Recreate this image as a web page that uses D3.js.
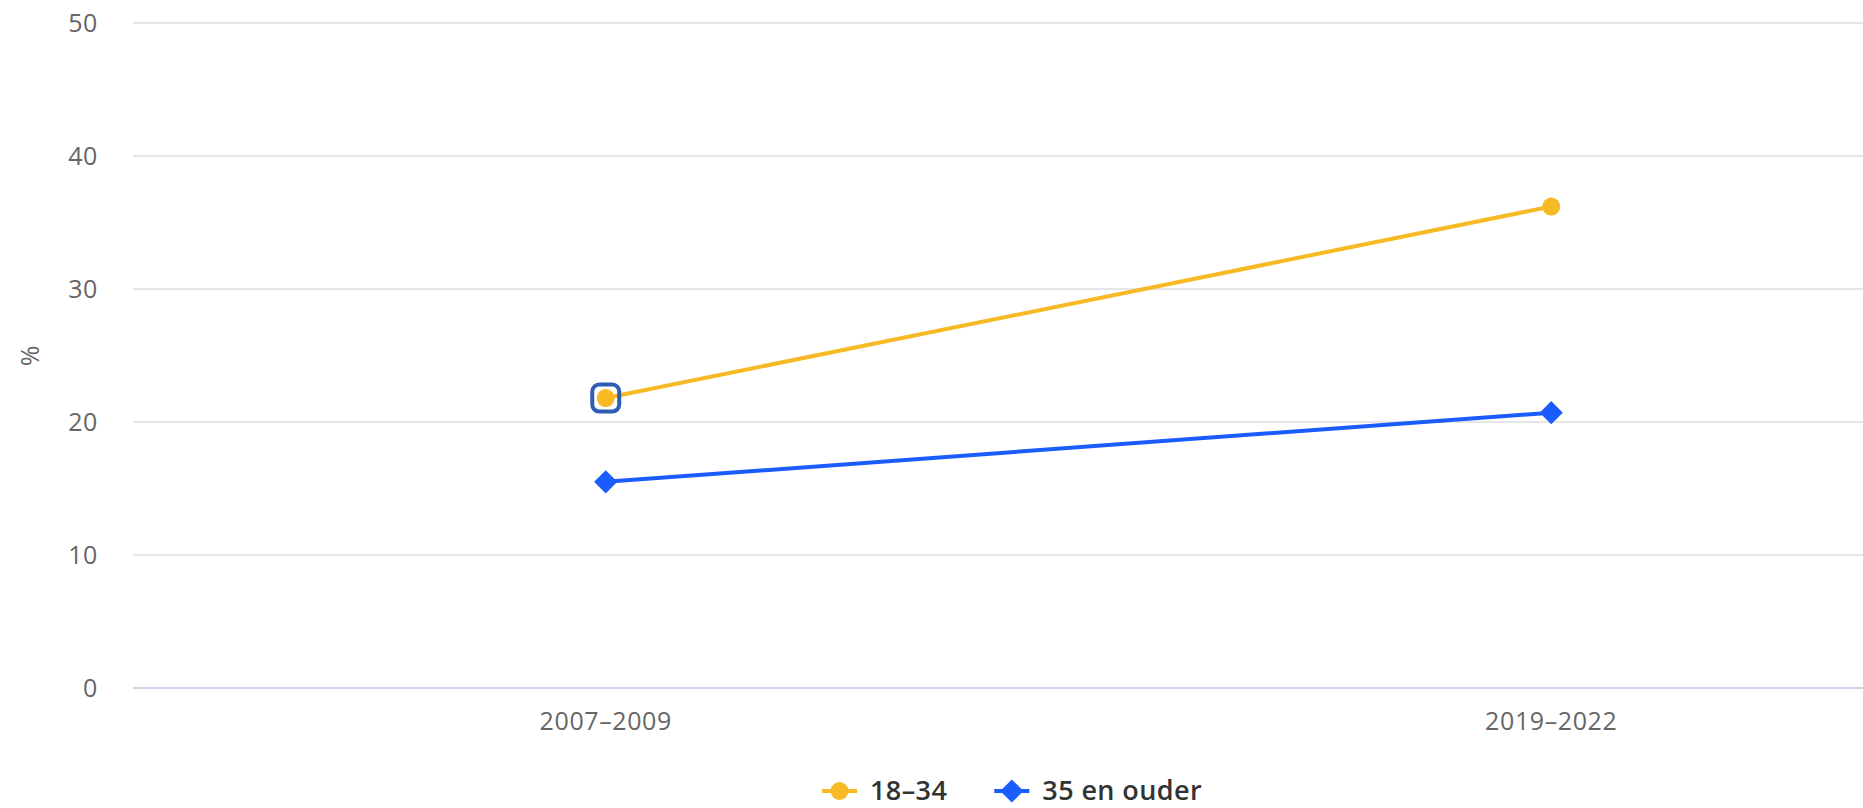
<!DOCTYPE html>
<html>
<head>
<meta charset="utf-8">
<script src="https://cdn.jsdelivr.net/npm/d3@7"></script>
<style>
  body { margin: 0; background: #fff; }
  svg { display: block; font-family: "Open Sans", sans-serif; }
  .tick-label { fill: #666666; font-size: 25px; letter-spacing: 0.6px; }
  .legend-text { fill: #333333; font-size: 27px; font-weight: 600; letter-spacing: 0.4px; }
</style>
</head>
<body>
<svg width="1863" height="808"></svg>
<script>
var periods = ["2007–2009", "2019–2022"];
var youngValues = [21.8, 36.2];   // 18–34
var olderValues = [15.5, 20.7];   // 35 en ouder
var seriesNames = ["18–34", "35 en ouder"];
var yTicks = [0, 10, 20, 30, 40, 50];

var width = 1863;
var chartWidth = 2024; // chart is cut off on the right side
var plotLeft = 133, plotRight = 2024, plotTop = 23, plotBottom = 688;

var yellow = "#f7b924";
var blue = "#1b5cff";

var svg = d3.select("svg");

var x = d3.scalePoint().domain(periods).range([plotLeft, plotRight]).padding(0.5);
var y = d3.scaleLinear().domain([0, 50]).range([plotBottom, plotTop]);

// grid
svg.append("g")
.selectAll("line")
.data(yTicks.filter(function (t) { return t > 0; }))
.join("line")
.attr("x1", plotLeft)
.attr("x2", width)
.attr("y1", function (d) { return y(d); })
.attr("y2", function (d) { return y(d); })
.style("stroke", "#e6e6e6")
.style("stroke-width", 2);

// x axis line
svg.append("line")
.attr("x1", plotLeft).attr("x2", width)
.attr("y1", y(0)).attr("y2", y(0))
.style("stroke", "#ccd6eb")
.style("stroke-width", 2);

// y tick labels
svg.append("g")
.selectAll("text")
.data(yTicks)
.join("text")
.attr("class", "tick-label")
.attr("x", 98)
.attr("y", function (d) { return y(d); })
.attr("dy", "0.35em")
.attr("text-anchor", "end")
.text(function (d) { return d; });

// x tick labels
svg.append("g")
.selectAll("text")
.data(periods)
.join("text")
.attr("class", "tick-label")
.attr("x", function (d) { return x(d); })
.attr("y", 730)
.attr("text-anchor", "middle")
.text(function (d) { return d; });

svg.append("text")
.attr("class", "tick-label")
.attr("transform", "translate(30," + ((plotTop + plotBottom) / 2) + ") rotate(-90)")
.attr("text-anchor", "middle")
.attr("dy", "0.35em")
.text("%");

var line = d3.line()
.x(function (d, i) { return x(periods[i]); })
.y(function (d) { return y(d); });

svg.append("path").datum(olderValues)
.attr("d", line)
.style("fill", "none").style("stroke", blue).style("stroke-width", 4);

svg.append("path").datum(youngValues)
.attr("d", line)
.style("fill", "none").style("stroke", yellow).style("stroke-width", 4);

var diamond = d3.symbol().type(d3.symbolSquare).size(270);

olderValues.forEach(function (d, i) {
	svg.append("path")
	.attr("d", diamond)
	.attr("transform", "translate(" + x(periods[i]) + "," + y(d) + ") rotate(45)")
	.style("fill", blue);
});

// hover highlight on the first point
svg.append("rect")
.attr("x", x(periods[0]) - 13.5)
.attr("y", y(youngValues[0]) - 13.5)
.attr("width", 27)
.attr("height", 27)
.attr("rx", 7)
.style("fill", "none")
.style("stroke", "#2f5db3")
.style("stroke-width", 4);

youngValues.forEach(function (d, i) {
	svg.append("circle")
	.attr("cx", x(periods[i]))
	.attr("cy", y(d))
	.attr("r", 9)
	.style("fill", yellow);
});

// legend
var legend = svg.append("g");
var lx = 0;
var items = [{name: seriesNames[0], color: yellow, shape: "circle"},
			 {name: seriesNames[1], color: blue, shape: "diamond"}];
items.forEach(function (it, i) {
	var g = legend.append("g").attr("transform", "translate(" + lx + ",0)");
	g.append("line")
	.attr("x1", 0).attr("x2", 35).attr("y1", 0).attr("y2", 0)
	.style("stroke", it.color).style("stroke-width", 4);
	if (it.shape == "circle") {
		g.append("circle").attr("cx", 17.5).attr("cy", 0).attr("r", 9).style("fill", it.color);
	} else {
		g.append("path").attr("d", diamond)
		.attr("transform", "translate(17.5,0) rotate(45)").style("fill", it.color);
	}
	var t = g.append("text")
	.attr("class", "legend-text")
	.attr("x", 48)
	.attr("dy", "0.35em")
	.text(it.name);
	lx += 48 + t.node().getComputedTextLength() + 47;
});
var legendWidth = lx - 47;
legend.attr("transform", "translate(" + (chartWidth / 2 - legendWidth / 2) + ",791)");
</script>
</body>
</html>
